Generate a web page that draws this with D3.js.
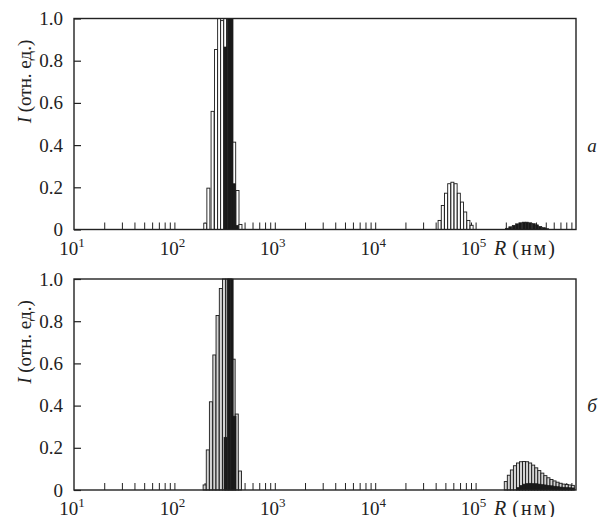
<!DOCTYPE html>
<html>
<head>
<meta charset="utf-8">
<script src="https://cdn.jsdelivr.net/npm/d3@7"></script>
<style>
	html, body { margin: 0; padding: 0; background: #fff; }
</style>
</head>
<body>
<svg id="chart" width="612" height="517"></svg>
<script>
// panel a, open bars (first peak + second peak)
var radii_a_open = [203, 218, 240, 260, 279, 299, 321, 343, 368, 394, 425, 455,
	43800, 47130, 50740, 54600, 58750, 63230, 68040, 73210, 78800, 84800, 91250];
var intens_a_open = [0.03, 0.196, 0.56, 0.853, 1.0, 0.99, 1.0, 1.0, 1.0, 0.414, 0.185, 0.024,
	0.043, 0.114, 0.172, 0.217, 0.224, 0.217, 0.172, 0.13, 0.083, 0.043, 0.02];

// panel a, filled bars
var radii_a_fill = [323, 347, 370, 392, 420,
	205400, 221600, 239700, 258500, 278800, 301400, 325100, 350600, 379000, 408900, 441000, 476800, 514300];
var intens_a_fill = [0.865, 1.0, 1.0, 0.217, 0.02,
	0.006, 0.013, 0.02, 0.027, 0.032, 0.035, 0.035, 0.032, 0.028, 0.022, 0.015, 0.009, 0.004];

// panel b, open bars
var radii_b_open = [200, 215, 231, 250, 269, 290, 312, 336, 361, 389, 418, 450,
	199800, 214300, 229800, 246400, 264300, 283400, 303900, 325900, 349500, 374800, 401900, 431000,
	462200, 495700, 531600, 570100, 611400, 655600, 703100, 754000, 808600, 867100, 929900];
var intens_b_open = [0.024, 0.19, 0.418, 0.64, 0.827, 0.955, 1.0, 1.0, 1.0, 0.62, 0.36, 0.09,
	0.04, 0.07, 0.095, 0.115, 0.128, 0.134, 0.135, 0.134, 0.128, 0.118, 0.105, 0.092,
	0.08, 0.068, 0.058, 0.05, 0.043, 0.037, 0.032, 0.028, 0.026, 0.024, 0.022];

// panel b, filled bars
var radii_b_fill = [323, 347, 372, 397,
	264300, 283400, 303900, 325900, 349500, 374800, 401900, 431000, 462200, 495700,
	531600, 570100, 611400, 655600, 703100, 754000, 808600, 867100, 929900];
var intens_b_fill = [0.25, 1.0, 1.0, 0.35,
	0.012, 0.022, 0.028, 0.031, 0.032, 0.031, 0.03, 0.028, 0.026, 0.024,
	0.022, 0.02, 0.018, 0.016, 0.014, 0.013, 0.012, 0.011, 0.01];

var y_ticks = [0, 0.2, 0.4, 0.6, 0.8, 1.0];
var x_decades = [1, 2, 3, 4, 5];
var panel_names = ['а', 'б'];

(function (d3) {

	var svg = d3.select('#chart');
	var left = 74, right = 576;
	var bar_w = 0.03; // bar width in decades
	var serif = '"Liberation Serif", "Times New Roman", Tinos, "DejaVu Serif", serif';

	var x = d3.scaleLog().domain([10, 1e6]).range([left, right]);

	// minor ticks 2..10 per decade
	var minor = [];
	for (var e = 1; e < 6; e++) {
		for (var m = 2; m <= 10; m++) {
			if (m * Math.pow(10, e) < 1e6) minor.push(m * Math.pow(10, e));
		}
	}

	var panels = [
		{ top: 18.5, open: radii_a_open, openI: intens_a_open, fill: radii_a_fill, fillI: intens_a_fill, openColor: '#fff' },
		{ top: 279, open: radii_b_open, openI: intens_b_open, fill: radii_b_fill, fillI: intens_b_fill, openColor: '#d4d4d4' }
	];

	function zip(r, v) {
		return r.map(function (d, i) { return { r: d, v: v[i] }; });
	}

	function txt(sel) {
		return sel.style('font-family', serif).style('fill', '#222');
	}

	panels.forEach(function (p, pi) {
		var bottom = p.top + 211;
		var y = d3.scaleLinear().domain([0, 1]).range([bottom, p.top]);
		var g = svg.append('g');

		// x ticks (inward)
		var xa = g.append('g')
			.attr('transform', 'translate(0,' + bottom + ')')
			.call(d3.axisBottom(x).tickValues(minor).tickSize(-7).tickFormat(''));
		xa.select('.domain').remove();
		xa.selectAll('line').attr('stroke', '#222').attr('stroke-width', 1);

		// y ticks (inward)
		var ya = g.append('g')
			.attr('transform', 'translate(' + left + ',0)')
			.call(d3.axisLeft(y).tickValues(y_ticks).tickSize(-7).tickPadding(11)
				.tickFormat(function (d) { return d === 0 ? '0' : d.toFixed(1); }));
		ya.select('.domain').remove();
		ya.attr('font-family', null);
		ya.selectAll('line').attr('stroke', '#222').attr('stroke-width', 1.2);
		txt(ya.selectAll('text')).style('font-size', '19px');

		function draw_bars(data, color, sw) {
			g.append('g').selectAll('rect').data(data).enter().append('rect')
				.attr('x', function (d) { return x(d.r / Math.pow(10, bar_w / 2)); })
				.attr('width', function (d) { return x(d.r * Math.pow(10, bar_w / 2)) - x(d.r / Math.pow(10, bar_w / 2)); })
				.attr('y', function (d) { return y(d.v); })
				.attr('height', function (d) { return bottom - y(d.v); })
				.attr('fill', color)
				.attr('stroke', '#1a1a1a')
				.attr('stroke-width', sw);
		}

		draw_bars(zip(p.open, p.openI), p.openColor, 0.9);
		draw_bars(zip(p.fill, p.fillI), '#1a1a1a', 0.6);

		// frame
		g.append('rect')
			.attr('x', left).attr('y', p.top)
			.attr('width', right - left).attr('height', bottom - p.top)
			.attr('fill', 'none').attr('stroke', '#222').attr('stroke-width', 1.4);

		// x decade labels
		var lab = txt(g.append('g').selectAll('text').data(x_decades).enter().append('text'))
			.attr('x', function (d) { return x(Math.pow(10, d)) - 2; })
			.attr('y', bottom + 25)
			.attr('text-anchor', 'middle')
			.style('font-size', '19px');
		lab.append('tspan').text('10');
		lab.append('tspan').style('font-size', '13px').attr('dy', -8).text(function (d) { return d; });

		// x axis title
		var xt = txt(g.append('text')).attr('x', 494).attr('y', bottom + 25).style('font-size', '20px');
		xt.append('tspan').style('font-style', 'italic').text('R');
		xt.append('tspan').attr('dx', 6).style('letter-spacing', '2px').text('(нм)');

		// y axis title
		var yt = txt(g.append('text'))
			.attr('transform', 'translate(31,' + (p.top + 63) + ') rotate(-90)')
			.attr('text-anchor', 'middle')
			.style('font-size', '19px');
		yt.append('tspan').style('font-style', 'italic').text('I');
		yt.append('tspan').text(' (отн. ед.)');

		// panel letter
		txt(g.append('text'))
			.attr('x', 592).attr('y', p.top + 133)
			.attr('text-anchor', 'middle')
			.style('font-size', '19px')
			.style('font-style', 'italic')
			.text(panel_names[pi]);
	});

}(d3));
</script>
</body>
</html>
